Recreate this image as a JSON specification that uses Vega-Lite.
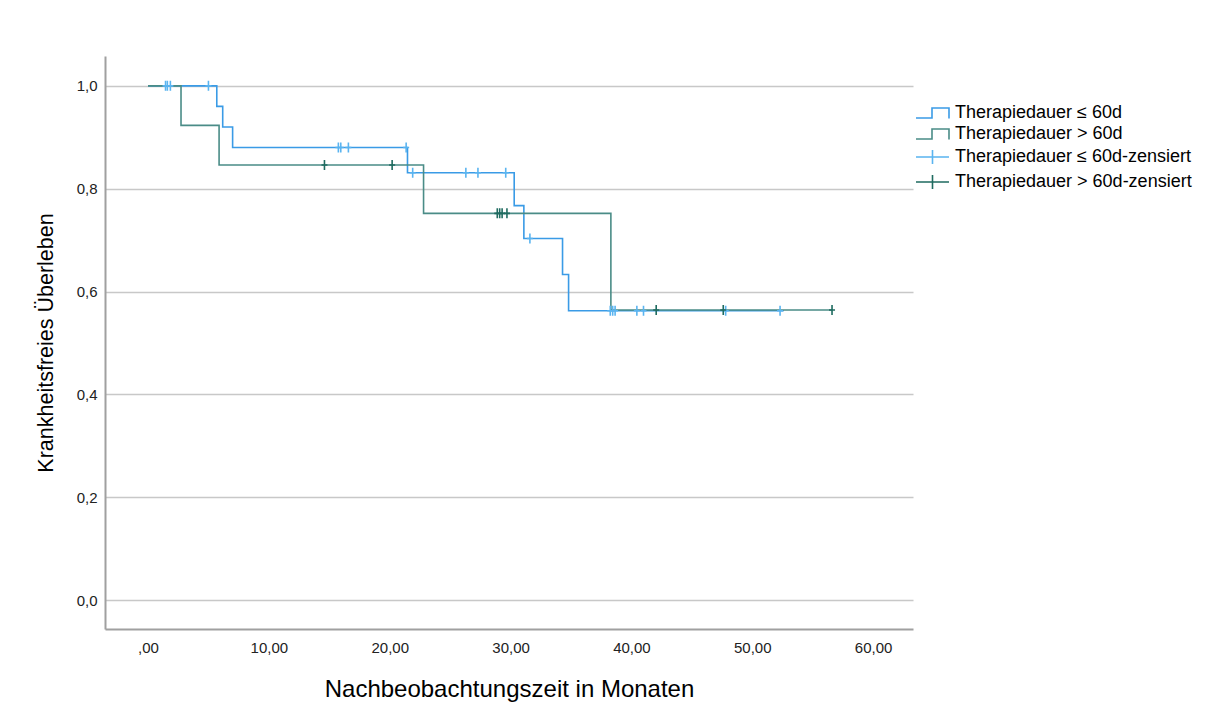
{
  "$schema": "https://vega.github.io/schema/vega-lite/v6.json",
  "width": 808,
  "height": 573,
  "autosize": {"type": "none"},
  "padding": {"left": 105, "top": 56, "right": 304, "bottom": 89},
  "background": "white",
  "config": {
    "view": {"stroke": null},
    "font": "Liberation Sans",
    "axis": {
      "labelFont": "Liberation Sans",
      "titleFont": "Liberation Sans",
      "labelColor": "#222222",
      "titleColor": "#000000",
      "titleFontWeight": "normal",
      "ticks": false,
      "domainColor": "#a0a0a0",
      "domainWidth": 2,
      "gridColor": "#c8c8c8",
      "gridWidth": 1.5
    }
  },
  "datasets": {
    "curves": [
      {"series": "Therapiedauer ≤ 60d", "t": 0, "s": 1.0},
      {"series": "Therapiedauer ≤ 60d", "t": 5.69, "s": 0.96},
      {"series": "Therapiedauer ≤ 60d", "t": 6.18, "s": 0.92},
      {"series": "Therapiedauer ≤ 60d", "t": 7.0, "s": 0.88},
      {"series": "Therapiedauer ≤ 60d", "t": 21.47, "s": 0.831},
      {"series": "Therapiedauer ≤ 60d", "t": 30.3, "s": 0.767},
      {"series": "Therapiedauer ≤ 60d", "t": 31.1, "s": 0.703},
      {"series": "Therapiedauer ≤ 60d", "t": 34.3, "s": 0.633},
      {"series": "Therapiedauer ≤ 60d", "t": 34.8, "s": 0.5625},
      {"series": "Therapiedauer ≤ 60d", "t": 52.6, "s": 0.5625},
      {"series": "Therapiedauer > 60d", "t": 0, "s": 1.0},
      {"series": "Therapiedauer > 60d", "t": 2.73, "s": 0.923},
      {"series": "Therapiedauer > 60d", "t": 5.88, "s": 0.846},
      {"series": "Therapiedauer > 60d", "t": 22.8, "s": 0.752},
      {"series": "Therapiedauer > 60d", "t": 38.3, "s": 0.564},
      {"series": "Therapiedauer > 60d", "t": 56.6, "s": 0.564}
    ],
    "censored": [
      {"series": "Therapiedauer ≤ 60d-zensiert", "t": 1.45, "s": 1.0},
      {"series": "Therapiedauer ≤ 60d-zensiert", "t": 1.6, "s": 1.0},
      {"series": "Therapiedauer ≤ 60d-zensiert", "t": 1.85, "s": 1.0},
      {"series": "Therapiedauer ≤ 60d-zensiert", "t": 5.0, "s": 1.0},
      {"series": "Therapiedauer ≤ 60d-zensiert", "t": 15.75, "s": 0.88},
      {"series": "Therapiedauer ≤ 60d-zensiert", "t": 15.95, "s": 0.88},
      {"series": "Therapiedauer ≤ 60d-zensiert", "t": 16.58, "s": 0.88},
      {"series": "Therapiedauer ≤ 60d-zensiert", "t": 21.36, "s": 0.88},
      {"series": "Therapiedauer ≤ 60d-zensiert", "t": 21.9, "s": 0.831},
      {"series": "Therapiedauer ≤ 60d-zensiert", "t": 26.3, "s": 0.831},
      {"series": "Therapiedauer ≤ 60d-zensiert", "t": 27.3, "s": 0.831},
      {"series": "Therapiedauer ≤ 60d-zensiert", "t": 29.6, "s": 0.831},
      {"series": "Therapiedauer ≤ 60d-zensiert", "t": 31.6, "s": 0.703},
      {"series": "Therapiedauer ≤ 60d-zensiert", "t": 38.25, "s": 0.5625},
      {"series": "Therapiedauer ≤ 60d-zensiert", "t": 38.45, "s": 0.5625},
      {"series": "Therapiedauer ≤ 60d-zensiert", "t": 38.65, "s": 0.5625},
      {"series": "Therapiedauer ≤ 60d-zensiert", "t": 40.45, "s": 0.5625},
      {"series": "Therapiedauer ≤ 60d-zensiert", "t": 41.0, "s": 0.5625},
      {"series": "Therapiedauer ≤ 60d-zensiert", "t": 47.8, "s": 0.5625},
      {"series": "Therapiedauer ≤ 60d-zensiert", "t": 52.3, "s": 0.5625},
      {"series": "Therapiedauer > 60d-zensiert", "t": 14.6, "s": 0.846},
      {"series": "Therapiedauer > 60d-zensiert", "t": 20.2, "s": 0.846},
      {"series": "Therapiedauer > 60d-zensiert", "t": 28.9, "s": 0.752},
      {"series": "Therapiedauer > 60d-zensiert", "t": 29.1, "s": 0.752},
      {"series": "Therapiedauer > 60d-zensiert", "t": 29.3, "s": 0.752},
      {"series": "Therapiedauer > 60d-zensiert", "t": 29.7, "s": 0.752},
      {"series": "Therapiedauer > 60d-zensiert", "t": 42.05, "s": 0.564},
      {"series": "Therapiedauer > 60d-zensiert", "t": 47.6, "s": 0.564},
      {"series": "Therapiedauer > 60d-zensiert", "t": 56.6, "s": 0.564}
    ]
  },
  "encoding": {
    "x": {
      "field": "t",
      "type": "quantitative",
      "scale": {"domain": [-3.56, 63.3], "nice": false, "zero": false},
      "axis": {
        "title": "Nachbeobachtungszeit in Monaten",
        "titleFontSize": 24,
        "titlePadding": 22,
        "labelFontSize": 15,
        "labelPadding": 11,
        "values": [0, 10, 20, 30, 40, 50, 60],
        "labelExpr": "datum.value == 0 ? ',00' : replace(format(datum.value, '.2f'), '.', ',')",
        "grid": false
      }
    },
    "y": {
      "field": "s",
      "type": "quantitative",
      "scale": {"domain": [-0.0563, 1.058], "nice": false, "zero": false},
      "axis": {
        "title": "Krankheitsfreies Überleben",
        "titleFontSize": 21.5,
        "titlePadding": 19,
        "labelFontSize": 15,
        "labelPadding": 8,
        "values": [0, 0.2, 0.4, 0.6, 0.8, 1.0],
        "labelExpr": "replace(format(datum.value, '.1f'), '.', ',')",
        "grid": true
      }
    },
    "color": {
      "field": "series",
      "type": "nominal",
      "scale": {
        "domain": ["Therapiedauer ≤ 60d", "Therapiedauer > 60d", "Therapiedauer ≤ 60d-zensiert", "Therapiedauer > 60d-zensiert"],
        "range": ["#3a9be6", "#4a8c87", "#5ab4f0", "#1f6b60"]
      },
      "legend": {
        "title": null,
        "orient": "none",
        "legendX": 807,
        "legendY": 48,
        "padding": 0,
        "labelFont": "Liberation Sans",
        "labelFontSize": 18,
        "labelColor": "#000000",
        "labelLimit": 400,
        "labelOffset": 25,
        "symbolSize": 100,
        "symbolStrokeWidth": 1.6,
        "rowPadding": 3,
        "encode": {
          "symbols": {
            "update": {
              "shape": {"signal": "indexof(datum.value, 'zensiert') >= 0 ? 'M-1,0H5.6M2.3,-1.4V1.4' : 'M-1,1H2.2V-1H5.6V1.1'"},
              "fill": {"value": "transparent"}
            }
          }
        }
      }
    }
  },
  "layer": [
    {
      "data": {"name": "curves"},
      "transform": [{"filter": "datum.series == 'Therapiedauer ≤ 60d'"}],
      "mark": {"type": "line", "interpolate": "step-after", "strokeWidth": 1.6}
    },
    {
      "data": {"name": "curves"},
      "transform": [{"filter": "datum.series == 'Therapiedauer > 60d'"}],
      "mark": {"type": "line", "interpolate": "step-after", "strokeWidth": 1.6}
    },
    {
      "data": {"name": "censored"},
      "mark": {"type": "point", "shape": "M-0.6,0H0.6M0,-1V1", "size": 100, "filled": false, "strokeWidth": 1.6, "opacity": 1}
    }
  ]
}
